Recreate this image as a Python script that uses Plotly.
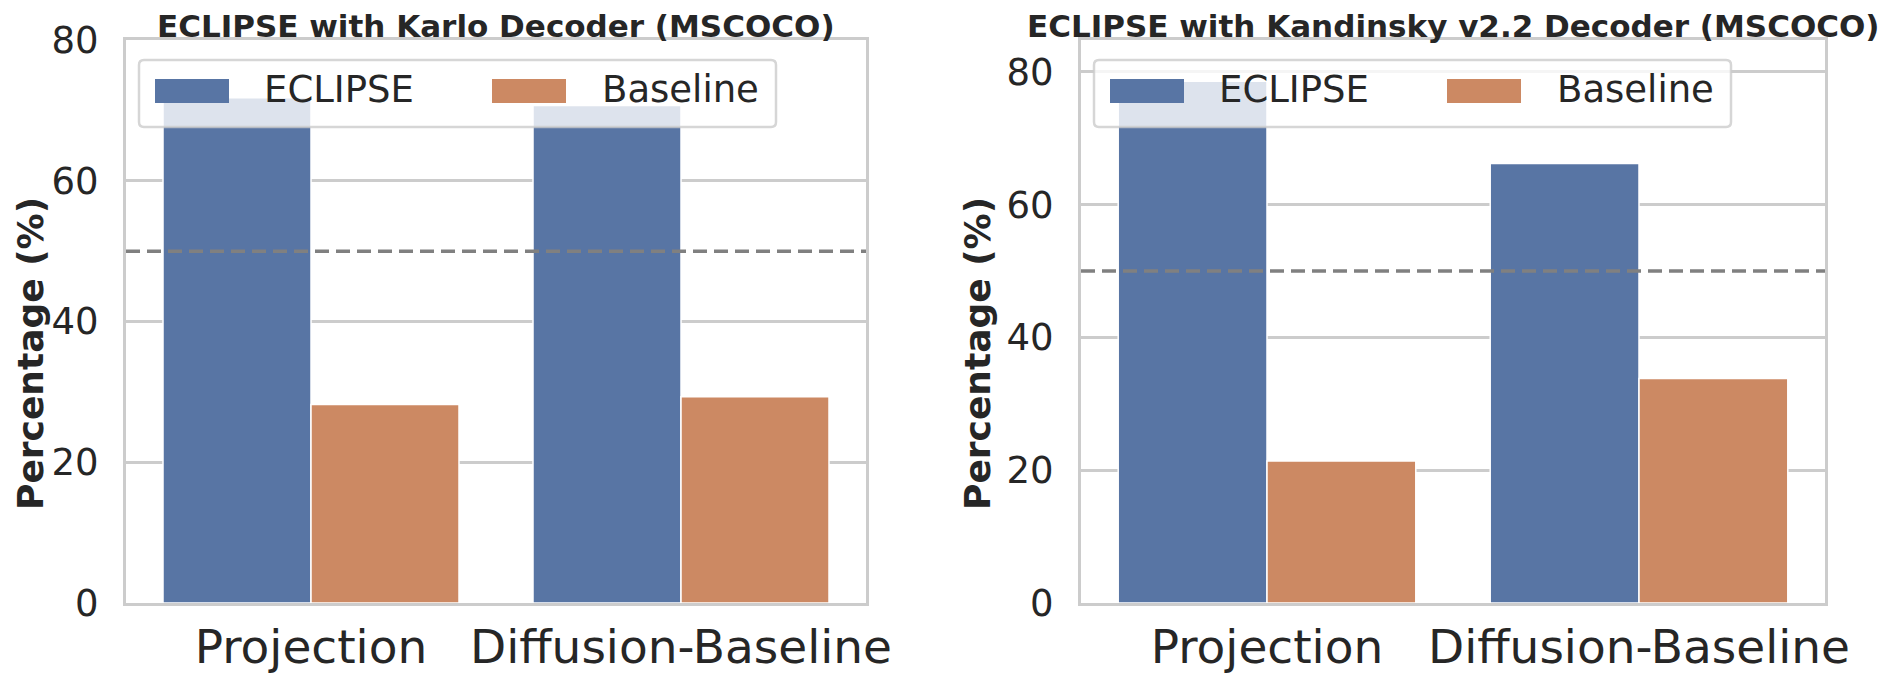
import plotly.graph_objects as go

# ---------------- data ----------------
categories = ["Projection", "Diffusion-Baseline"]
series_names = ["ECLIPSE", "Baseline"]
karlo_eclipse = [71.8, 70.7]
karlo_baseline = [28.2, 29.3]
kandinsky_eclipse = [78.6, 66.2]
kandinsky_baseline = [21.4, 33.8]
panel_titles = ["ECLIPSE with Karlo Decoder (MSCOCO)",
                "ECLIPSE with Kandinsky v2.2 Decoder (MSCOCO)"]
y_title = "Percentage (%)"
y_ticks = [0, 20, 40, 60, 80]
y_ranges = [[0, 80], [0, 84.8]]
threshold = 50

# ---------------- style ----------------
W, H = 1903, 674
OFF = 8  # page body margin
FONT = "DejaVu Sans"
TXT = "#262626"
GRID = "#cccccc"
colors = ["#5875a4", "#cc8963"]

def px_x(x):
    return (x - OFF) / W

def px_y(y):
    return 1 - (y - OFF) / H

panels = [(126, 866), (1081, 1825)]
plot_top, plot_bottom = 40, 603

fig = go.Figure()

data = [(karlo_eclipse, karlo_baseline), (kandinsky_eclipse, kandinsky_baseline)]
for i, (ecl, base) in enumerate(data):
    xa = "x" if i == 0 else "x2"
    ya = "y" if i == 0 else "y2"
    for j, vals in enumerate((ecl, base)):
        fig.add_trace(go.Bar(
            x=categories, y=vals, name=series_names[j],
            marker=dict(color=colors[j], line=dict(color="white", width=1.5)),
            offsetgroup=str(j), xaxis=xa, yaxis=ya, showlegend=False,
        ))

axis_common = dict(showline=True, mirror=True, linecolor=GRID, linewidth=3,
                   zeroline=False, automargin=False)
ydomain = [px_y(plot_bottom), px_y(plot_top)]
for i, (l, r) in enumerate(panels):
    sfx = "" if i == 0 else "2"
    fig.update_layout(**{
        f"xaxis{sfx}": dict(domain=[px_x(l), px_x(r)], anchor=f"y{sfx}",
                            range=[-0.5, 1.5], showgrid=False,
                            tickfont=dict(family=FONT, size=47, color=TXT),
                            ticks="", ticklabelstandoff=1, **axis_common),
        f"yaxis{sfx}": dict(domain=ydomain, anchor=f"x{sfx}",
                            range=y_ranges[i], tickvals=y_ticks,
                            showgrid=True, gridcolor=GRID, gridwidth=2.5,
                            tickfont=dict(family=FONT, size=37, color=TXT),
                            ticks="", ticklabelstandoff=17, **axis_common),
    })

shapes = []
annotations = []
ylabel_x = [30, 977]
for i, (l, r) in enumerate(panels):
    sfx = "" if i == 0 else "2"
    # reference line
    shapes.append(dict(type="line", xref=f"x{sfx} domain", yref=f"y{sfx}",
                       x0=0, x1=1, y0=threshold, y1=threshold, layer="above",
                       line=dict(color="#808080", width=3.5, dash="14px,7px")))
    # title
    annotations.append(dict(text=f"<b>{panel_titles[i]}</b>", xref="paper", yref="paper",
                            x=px_x((l + r) / 2), y=px_y(26), xanchor="center",
                            yanchor="middle", showarrow=False,
                            font=dict(family=FONT, size=31, color=TXT)))
    # y title
    annotations.append(dict(text=f"<b>{y_title}</b>", xref="paper", yref="paper",
                            x=px_x(ylabel_x[i]), y=px_y(354), textangle=-90,
                            xanchor="center", yanchor="middle", showarrow=False,
                            font=dict(family=FONT, size=36, color=TXT)))
    # custom legend
    bx0 = l + 13
    bx1 = bx0 + 637
    by0, by1 = 60, 127
    rr = 5
    path = (f"M {px_x(bx0 + rr)},{px_y(by0)} L {px_x(bx1 - rr)},{px_y(by0)} "
            f"Q {px_x(bx1)},{px_y(by0)} {px_x(bx1)},{px_y(by0 + rr)} "
            f"L {px_x(bx1)},{px_y(by1 - rr)} "
            f"Q {px_x(bx1)},{px_y(by1)} {px_x(bx1 - rr)},{px_y(by1)} "
            f"L {px_x(bx0 + rr)},{px_y(by1)} "
            f"Q {px_x(bx0)},{px_y(by1)} {px_x(bx0)},{px_y(by1 - rr)} "
            f"L {px_x(bx0)},{px_y(by0 + rr)} "
            f"Q {px_x(bx0)},{px_y(by0)} {px_x(bx0 + rr)},{px_y(by0)} Z")
    shapes.append(dict(type="path", xref="paper", yref="paper", path=path,
                       fillcolor="rgba(255,255,255,0.8)", layer="above",
                       line=dict(color="rgba(204,204,204,0.8)", width=2.5)))
    offsets = [(16, 123), (353, 461)]
    for j, (so, to) in enumerate(offsets):
        shapes.append(dict(type="rect", xref="paper", yref="paper",
                           x0=px_x(bx0 + so), x1=px_x(bx0 + so + 74),
                           y0=px_y(79), y1=px_y(103), layer="above",
                           fillcolor=colors[j], line=dict(width=0)))
        annotations.append(dict(text=series_names[j], xref="paper", yref="paper",
                                x=px_x(bx0 + to), y=px_y(90), xanchor="left",
                                yanchor="middle", showarrow=False,
                                font=dict(family=FONT, size=37, color=TXT)))

fig.update_layout(
    width=W, height=H, margin=dict(l=0, r=0, t=0, b=0, autoexpand=False),
    paper_bgcolor="white", plot_bgcolor="white",
    barmode="group", bargap=0.2, bargroupgap=0,
    shapes=shapes, annotations=annotations, showlegend=False,
)

fig.write_html("out.html")
